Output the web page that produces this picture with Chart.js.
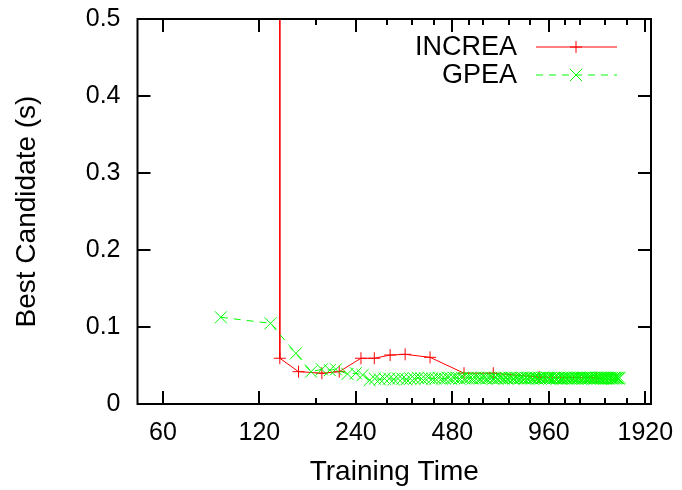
<!DOCTYPE html>
<html>
<head>
<meta charset="utf-8">
<script src="https://cdn.jsdelivr.net/npm/chart.js@4.4.1/dist/chart.umd.min.js"></script>
<style>
  html, body { margin: 0; padding: 0; background: #fff; }
  #wrap { width: 682px; height: 490px; }
</style>
</head>
<body>
<div id="wrap"><canvas id="chart" width="682" height="490"></canvas></div>
<script>
// tick positions on the log2 time axis
const xMajorTicks = [60, 120, 240, 480, 960, 1920];
const xMinorTicks = [180, 300, 360, 420, 540, 600, 720, 840, 1080, 1200, 1440, 1680];
const yTicks = [0, 0.1, 0.2, 0.3, 0.4, 0.5];

// INCREA: first point is far above the plot (vertical line at ~139 s)
const increaTime = [139, 139, 159, 188, 213, 249, 274, 307, 342, 409, 522, 644, 896, 1350];
const increaBest = [2.0, 0.0594, 0.042, 0.040, 0.042, 0.0594, 0.0594, 0.0636, 0.0645, 0.0606, 0.040, 0.040, 0.035, 0.034];

const gpeaTime = [
  91, 130, 156, 174, 188, 199, 208, 226, 240, 252, 265,
  275, 285, 295, 305, 315, 325, 335, 345, 355, 365,
  375, 385, 395, 405, 415, 425, 435, 445, 455, 465,
  475, 485, 495, 505, 515, 525, 535, 545, 555, 565,
  575, 585, 595, 605, 615, 625, 635, 645, 655, 665,
  675, 685, 695, 705, 715, 725, 735, 745, 755, 765,
  775, 785, 795, 805, 815, 825, 835, 845, 855, 865,
  875, 885, 895, 905, 915, 925, 935, 945, 955, 965,
  975, 985, 995, 1005, 1015, 1025, 1035, 1045, 1055, 1065,
  1075, 1085, 1095, 1105, 1115, 1125, 1135, 1145, 1155, 1165,
  1175, 1185, 1195, 1205, 1215, 1225, 1235, 1245, 1255, 1265,
  1275, 1285, 1295, 1305, 1315, 1325, 1335, 1345, 1355, 1365,
  1375, 1385, 1395, 1405, 1415, 1425, 1435, 1445, 1455, 1465,
  1475, 1485, 1495, 1505, 1515, 1525, 1535, 1545, 1555, 1565,
  1575, 1585, 1595
];
const gpeaBest = [
  0.1126, 0.1048, 0.0658, 0.042, 0.045, 0.044, 0.045, 0.039, 0.040, 0.0377, 0.031,
  0.033, 0.032, 0.033, 0.033, 0.032, 0.033, 0.033, 0.032, 0.033, 0.033,
  0.034, 0.033, 0.033, 0.034, 0.033, 0.033, 0.034, 0.033, 0.033, 0.034,
  0.033, 0.034, 0.034, 0.033, 0.034, 0.033, 0.034, 0.034, 0.033, 0.034,
  0.034, 0.033, 0.034, 0.034, 0.033, 0.034, 0.034, 0.033, 0.034, 0.033,
  0.034, 0.034, 0.033, 0.034, 0.033, 0.034, 0.034, 0.033, 0.034, 0.034,
  0.033, 0.034, 0.034, 0.033, 0.034, 0.033, 0.034, 0.034, 0.033, 0.034,
  0.034, 0.033, 0.034, 0.033, 0.034, 0.034, 0.033, 0.034, 0.034, 0.033,
  0.034, 0.033, 0.034, 0.034, 0.033, 0.034, 0.034, 0.033, 0.034, 0.033,
  0.034, 0.034, 0.033, 0.034, 0.034, 0.033, 0.034, 0.033, 0.034, 0.034,
  0.033, 0.034, 0.034, 0.033, 0.034, 0.033, 0.034, 0.034, 0.033, 0.034,
  0.034, 0.033, 0.034, 0.034, 0.033, 0.034, 0.033, 0.034, 0.034, 0.033,
  0.034, 0.034, 0.033, 0.034, 0.033, 0.034, 0.034, 0.033, 0.034, 0.034,
  0.033, 0.034, 0.034, 0.033, 0.034, 0.033, 0.034, 0.034, 0.033, 0.034,
  0.034, 0.033, 0.034
];

const RED = "rgb(255, 0, 0)";
const GREEN = "rgb(0, 255, 0)";
const FONT = "'Liberation Sans', Arial, Helvetica, sans-serif";
const TICK_MAJOR = 13;
const TICK_MINOR = 6;

function toPoints(xs, ys) {
  return xs.map((x, i) => ({ x: x, y: ys[i] }));
}

// gnuplot-like frame with inward ticks on all four sides
const frameTicks = {
  id: "frameTicks",
  afterDraw(chart) {
    const { ctx, chartArea: a, scales } = chart;
    ctx.save();
    ctx.strokeStyle = "#000";
    ctx.lineWidth = 2;
    const tick = (x1, y1, x2, y2) => {
      ctx.beginPath();
      ctx.moveTo(x1, y1);
      ctx.lineTo(x2, y2);
      ctx.stroke();
    };
    xMajorTicks.concat(xMinorTicks).forEach((v) => {
      const len = xMajorTicks.includes(v) ? TICK_MAJOR : TICK_MINOR;
      const px = Math.round(scales.x.getPixelForValue(v));
      tick(px, a.bottom, px, a.bottom - len);
      tick(px, a.top, px, a.top + len);
    });
    yTicks.forEach((v) => {
      const py = Math.round(scales.y.getPixelForValue(v));
      tick(a.left, py, a.left + TICK_MAJOR, py);
      tick(a.right, py, a.right - TICK_MAJOR, py);
    });
    ctx.strokeRect(a.left, a.top, a.right - a.left, a.bottom - a.top);
    ctx.restore();
  },
};

// key in the top right corner: text, then line sample with marker
const keyBox = {
  id: "keyBox",
  afterDraw(chart) {
    const { ctx, chartArea: a } = chart;
    ctx.save();
    ctx.font = "27px " + FONT;
    ctx.textAlign = "right";
    ctx.textBaseline = "middle";
    chart.data.datasets.forEach((ds, i) => {
      const y = a.top + 28 + i * 28;
      ctx.fillStyle = "#000";
      ctx.fillText(ds.label, a.right - 134, y + 1);
      ctx.strokeStyle = ds.borderColor;
      ctx.lineWidth = 1;
      ctx.setLineDash(ds.borderDash || []);
      ctx.beginPath();
      ctx.moveTo(a.right - 115, y);
      ctx.lineTo(a.right - 34, y);
      ctx.stroke();
      ctx.setLineDash([]);
      Chart.helpers.drawPoint(ctx, {
        pointStyle: ds.pointStyle,
        radius: ds.pointRadius,
        rotation: 0,
        borderWidth: 1,
      }, a.right - 75, y);
    });
    ctx.restore();
  },
};

// invisible tick marks only reserve the gap between frame and labels
const hiddenGrid = (len) => ({
  display: true,
  drawOnChartArea: false,
  drawTicks: true,
  tickLength: len,
  color: "rgba(0,0,0,0)",
});

const ctx = document.getElementById("chart").getContext("2d");
new Chart(ctx, {
  type: "line",
  data: {
    datasets: [
      {
        label: "INCREA",
        data: toPoints(increaTime, increaBest),
        borderColor: RED,
        backgroundColor: RED,
        borderWidth: 1,
        pointStyle: "cross",
        pointRadius: 6,
        pointBorderWidth: 1,
        tension: 0,
        order: 2,
      },
      {
        label: "GPEA",
        data: toPoints(gpeaTime, gpeaBest),
        borderColor: GREEN,
        backgroundColor: GREEN,
        borderWidth: 1,
        borderDash: [7, 6],
        pointStyle: "crossRot",
        pointRadius: 8.5,
        pointBorderWidth: 1,
        tension: 0,
        order: 1,
      },
    ],
  },
  options: {
    responsive: false,
    animation: false,
    devicePixelRatio: 1,
    layout: { padding: { left: 0, right: 31, top: 19, bottom: 0 } },
    scales: {
      x: {
        type: "logarithmic",
        min: 50,
        max: 2000,
        afterBuildTicks: (scale) => {
          scale.ticks = xMajorTicks.map((v) => ({ value: v }));
        },
        afterFit: (scale) => { scale.height = 86; },
        grid: hiddenGrid(11),
        border: { display: false },
        ticks: {
          autoSkip: false,
          maxRotation: 0,
          padding: 3,
          color: "#000",
          font: { family: FONT, size: 25 },
          callback: (value) => String(value),
        },
        title: {
          display: true,
          text: "Training Time",
          color: "#000",
          font: { family: FONT, size: 28 },
          padding: { top: 0, bottom: 1 },
        },
      },
      y: {
        type: "linear",
        min: 0,
        max: 0.5,
        afterBuildTicks: (scale) => {
          scale.ticks = yTicks.map((v) => ({ value: v }));
        },
        afterFit: (scale) => { scale.width = 137.5; },
        grid: hiddenGrid(14),
        border: { display: false },
        ticks: {
          padding: 3,
          color: "#000",
          font: { family: FONT, size: 25 },
          callback: (value) => (value === 0 ? "0" : value.toFixed(1)),
        },
        title: {
          display: true,
          text: "Best Candidate (s)",
          color: "#000",
          font: { family: FONT, size: 28 },
          padding: { top: 10, bottom: 0 },
        },
      },
    },
    plugins: {
      legend: { display: false },
      tooltip: { enabled: false },
    },
  },
  plugins: [frameTicks, keyBox],
});
</script>
</body>
</html>
